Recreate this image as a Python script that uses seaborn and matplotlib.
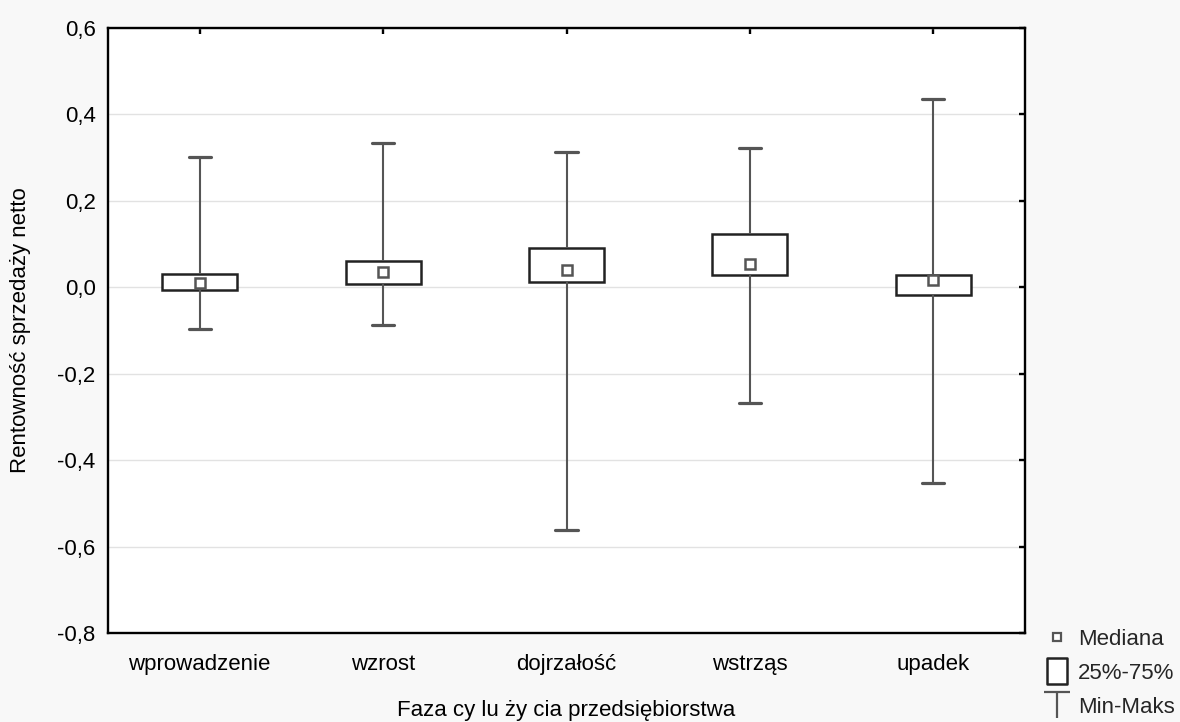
import numpy as np
import pandas as pd
import matplotlib
matplotlib.use("Agg")
import matplotlib.pyplot as plt
import seaborn as sns
from matplotlib.lines import Line2D
from matplotlib.path import Path
from matplotlib.ticker import FuncFormatter, MultipleLocator

# ---- data ----
categories = ["wprowadzenie", "wzrost", "dojrzałość", "wstrząs", "upadek"]
mins = [-0.097, -0.087, -0.562, -0.268, -0.452]
q1s = [-0.007, 0.007, 0.013, 0.028, -0.019]
medians = [0.011, 0.035, 0.041, 0.053, 0.016]
q3s = [0.030, 0.061, 0.091, 0.124, 0.028]
maxs = [0.301, 0.335, 0.312, 0.323, 0.435]
y_limits = [-0.8, 0.6]
y_step = 0.2
x_label = "Faza cy lu ży cia przedsiębiorstwa"
y_label = "Rentowność sprzedaży netto"
legend_labels = ["Mediana", "25%-75%", "Min-Maks"]

# five-point samples whose quartiles (linear interpolation) equal the summary stats
rows = []
for c, a, b, m, d, e in zip(categories, mins, q1s, medians, q3s, maxs):
    for v in (a, b, m, d, e):
        rows.append({"faza": c, "val": v})
df = pd.DataFrame(rows)

sns.set_theme(style="white")
plt.rcParams["font.family"] = ["Liberation Sans", "DejaVu Sans"]

FS = 16
fig = plt.figure(figsize=(11.8, 7.22), dpi=100, facecolor="#f8f8f8")
ax = fig.add_axes([108 / 1180, 1 - 633 / 722, (1025 - 108) / 1180, (633 - 28) / 722])
ax.set_facecolor("white")

BOX_W = 0.41
sns.boxplot(
    data=df, x="faza", y="val", order=categories, whis=(0, 100), width=BOX_W,
    ax=ax, showfliers=False,
    boxprops=dict(facecolor="white", edgecolor="#222222", linewidth=1.8),
    whiskerprops=dict(color="#555555", linewidth=1.5),
    capprops=dict(color="#555555", linewidth=2.3),
    medianprops=dict(linewidth=0, visible=False),
)

# shorten caps
cap_half = 0.06
for ln in ax.lines:
    xd = np.asarray(ln.get_xdata(), dtype=float)
    yd = np.asarray(ln.get_ydata(), dtype=float)
    if len(xd) == 2 and np.isclose(yd[0], yd[1]) and abs((xd[1] - xd[0]) - 0.5 * BOX_W) < 1e-6:
        c = xd.mean()
        ln.set_xdata([c - cap_half, c + cap_half])

n_before = len(ax.lines)
sns.pointplot(x=categories, y=medians, order=categories, errorbar=None,
              linestyle="none", marker="s", color="#555555", ax=ax)
for ln in ax.lines[n_before:]:
    ln.set_linestyle("none")
    ln.set_marker("s")
    ln.set_markersize(7.5)
    ln.set_markerfacecolor("white")
    ln.set_markeredgecolor("#555555")
    ln.set_markeredgewidth(1.8)
    ln.set_zorder(6)

ax.set_xlim(-0.5, len(categories) - 0.5)
ax.set_ylim(*y_limits)
ax.yaxis.set_major_locator(MultipleLocator(y_step))

def fmt(v, p):
    if abs(v) < 1e-9:
        v = 0.0
    return f"{v:.1f}".replace(".", ",")

ax.yaxis.set_major_formatter(FuncFormatter(fmt))
ax.grid(axis="y", color="#e2e2e2", linewidth=1.0)
ax.grid(axis="x", visible=False)
ax.set_axisbelow(True)

for s in ax.spines.values():
    s.set_visible(True)
    s.set_color("black")
    s.set_linewidth(1.7)

ax.tick_params(axis="both", direction="in", length=4.5, width=1.7, color="black",
               labelsize=FS, top=True, right=True, labelcolor="black")
ax.tick_params(axis="x", pad=15)
ax.tick_params(axis="y", pad=9)

ax.set_xlabel(x_label, fontsize=FS, labelpad=18, color="black")
ax.set_ylabel(y_label, fontsize=FS, labelpad=19, color="black")

# legend
rect_marker = Path([(-0.38, -0.5), (0.38, -0.5), (0.38, 0.5), (-0.38, 0.5), (-0.38, -0.5)],
                   [Path.MOVETO, Path.LINETO, Path.LINETO, Path.LINETO, Path.CLOSEPOLY])
t_marker = Path([(-0.5, 0.5), (0.5, 0.5), (0.0, 0.5), (0.0, -0.5)],
                [Path.MOVETO, Path.LINETO, Path.MOVETO, Path.LINETO])
handles = [
    Line2D([], [], linestyle="none", marker="s", markersize=6, markerfacecolor="white",
           markeredgecolor="#555555", markeredgewidth=1.6),
    Line2D([], [], linestyle="none", marker=rect_marker, markersize=19, markerfacecolor="white",
           markeredgecolor="#222222", markeredgewidth=1.8),
    Line2D([], [], linestyle="none", marker=t_marker, markersize=19, markerfacecolor="none",
           markeredgecolor="#555555", markeredgewidth=1.6),
]
fig.legend(handles, legend_labels, loc="upper left", bbox_to_anchor=(1046 / 1180, 1 - 629 / 722),
           frameon=False, fontsize=FS, handlelength=1.0, handletextpad=0.45,
           labelspacing=0.58, borderpad=0.0, borderaxespad=0.0)

fig.savefig("out.png", dpi=100, facecolor=fig.get_facecolor())
